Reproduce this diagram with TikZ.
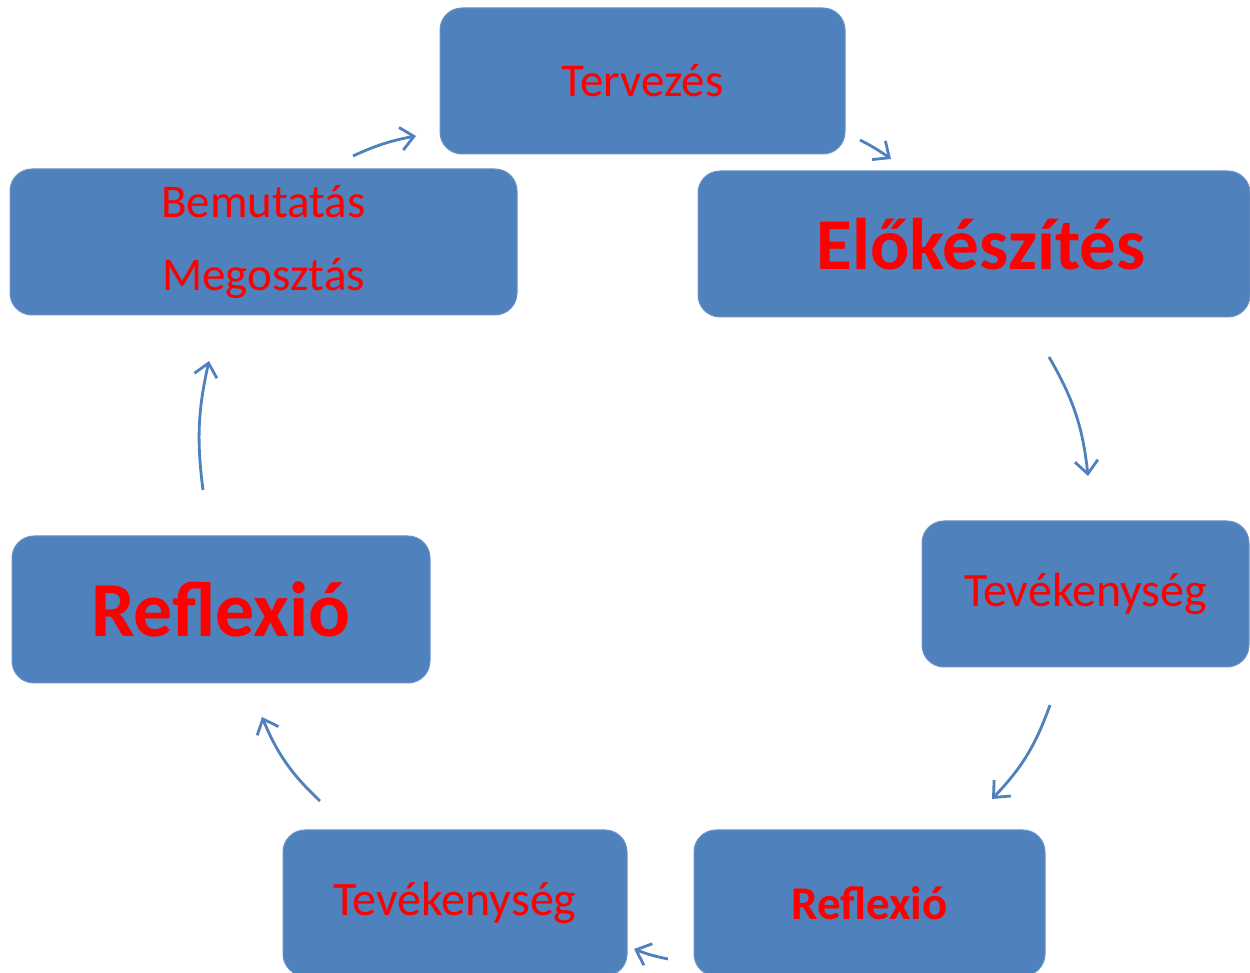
\documentclass[tikz,border=0pt]{standalone}
\usepackage{fontspec}
\setmainfont{Carlito}
\usetikzlibrary{arrows.meta}
\definecolor{boxblue}{HTML}{4F81BD}
\definecolor{txtred}{HTML}{FF0000}
\begin{document}
\begin{tikzpicture}[x=1pt,y=1pt,
  box/.style={fill=boxblue, draw=boxblue!85!white, line width=1pt, rounded corners=22pt,
    inner sep=0pt, text=txtred, align=center, minimum height=146pt},
  cyc/.style={draw=boxblue, line width=2.8pt,
    -{Straight Barb[length=13pt,width=23pt]}, bend left=12}]
\useasboundingbox (0,0) rectangle (1250,973);
\fill[white] (0,0) rectangle (1250,973);

\node[box, minimum width=405pt, font=\fontsize{47}{56}\selectfont] (terv) at (642.5,892) {Tervezés};
\node[box, minimum width=552pt, font=\bfseries\fontsize{73}{80}\selectfont] (elo) at (974,729) {\hspace*{14pt}Előkészítés};
\node[box, minimum width=327pt, font=\fontsize{48}{56}\selectfont] (tev1) at (1085.5,379) {Tevékenység};
\node[box, minimum width=351pt, font=\bfseries\fontsize{47}{56}\selectfont] (ref1) at (869.5,70) {Reflexió};
\node[box, minimum width=344pt, font=\fontsize{48}{56}\selectfont] (tev2) at (455,70) {Tevékenység};
\node[box, minimum width=418pt, minimum height=147pt, font=\bfseries\fontsize{78}{86}\selectfont] (ref2) at (221,363.5) {Reflexió};
\node[box, minimum width=507pt, font=\fontsize{47}{73}\selectfont] (bem) at (263.5,731) {Bemutatás\\Megosztás};

\coordinate (a1s) at (353,817); \coordinate (a1e) at (416,837);
\coordinate (a2s) at (860,833); \coordinate (a2e) at (891,814);
\coordinate (a3s) at (1049,616); \coordinate (a3e) at (1088,497);
\coordinate (a4s) at (1050,268); \coordinate (a4e) at (992,174);
\coordinate (a5s) at (668,14); \coordinate (a5e) at (634,24);
\coordinate (a6s) at (320,172); \coordinate (a6e) at (262,256);
\coordinate (a7s) at (203,483); \coordinate (a7e) at (209,612);

\draw[cyc, bend left=7] (a1s) to (a1e);
\draw[cyc, bend left=4] (a2s) to (a2e);
\draw[cyc] (a3s) to (a3e);
\draw[cyc] (a4s) to (a4e);
\draw[cyc, bend left=5] (a5s) to (a5e);
\draw[cyc] (a6s) to (a6e);
\draw[cyc, bend left=10] (a7s) to (a7e);
\end{tikzpicture}
\end{document}
